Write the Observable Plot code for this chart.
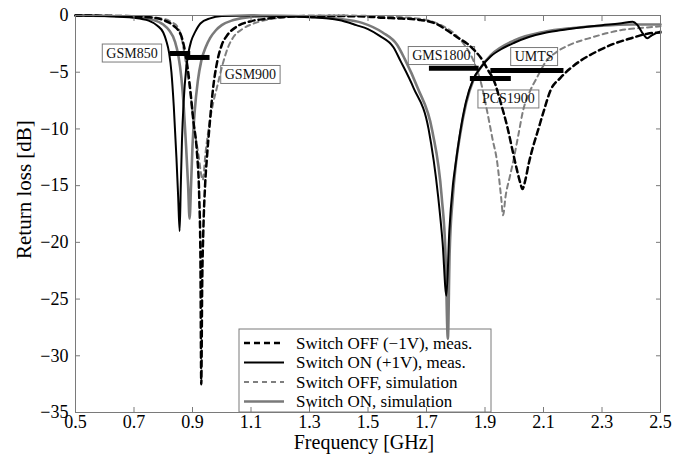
<!DOCTYPE html>
<html><head><meta charset="utf-8">
<script src="https://cdn.jsdelivr.net/npm/d3@7"></script>
<script src="https://cdn.jsdelivr.net/npm/@observablehq/plot@0.6"></script>
<style>
body{margin:0;background:#fff;}
#chart svg{font-family:"Liberation Serif","Times New Roman",serif;}
</style></head><body><div id="chart"></div>
<script>
// ---- data (GHz, dB) ----
const offMeasFreq = [0.5,0.6,0.7,0.75,0.8,0.83,0.86,0.876,0.89,0.903,0.915,0.923,0.927,0.93,0.933,0.937,0.943,0.95,0.958,0.97,0.985,1.0,1.02,1.05,1.1,1.15,1.2,1.3,1.4,1.5,1.55,1.6,1.68,1.73,1.77,1.81,1.84,1.865,1.885,1.91,1.93,1.955,1.977,1.995,2.01,2.02,2.028,2.038,2.05,2.065,2.078,2.1,2.124,2.158,2.19,2.226,2.28,2.34,2.4,2.455,2.5];
const offMeasDb   = [0,-0.02,-0.08,-0.15,-0.4,-0.8,-1.7,-3.4,-6,-9.3,-12,-16,-21,-32.5,-24,-19,-15,-12.3,-9.8,-6.5,-4,-2.6,-1.7,-1.0,-0.5,-0.3,-0.15,-0.05,-0.05,-0.1,-0.2,-0.25,-0.4,-0.7,-1.3,-2.0,-2.5,-3.1,-3.7,-4.8,-5.7,-7.8,-9.9,-12,-13.7,-14.7,-15.3,-14.5,-13,-11.5,-10.4,-8.5,-6.6,-5.5,-4.7,-4,-3.2,-2.5,-2.0,-1.6,-1.5];

const onMeasFreq = [0.5,0.6,0.7,0.75,0.78,0.8,0.81,0.82,0.828,0.836,0.845,0.851,0.856,0.86,0.864,0.87,0.878,0.886,0.895,0.91,0.927,0.96,1.0,1.1,1.2,1.3,1.4,1.46,1.5,1.54,1.587,1.611,1.656,1.707,1.74,1.755,1.768,1.778,1.79,1.8,1.815,1.835,1.86,1.885,1.92,1.96,2.0,2.05,2.11,2.17,2.226,2.3,2.36,2.405,2.42,2.44,2.455,2.47,2.5];
const onMeasDb   = [0,-0.05,-0.2,-0.45,-0.9,-1.5,-2.2,-3.3,-5,-8,-12.5,-16,-19,-15,-11,-7.5,-4.8,-3.3,-2.3,-1.4,-0.7,-0.25,-0.05,0,-0.05,-0.15,-0.4,-0.85,-1.2,-1.8,-2.8,-4,-6.4,-10,-16,-20,-24.7,-19,-15,-13,-10.3,-7.6,-5.6,-4.6,-3.6,-2.9,-2.4,-1.9,-1.5,-1.25,-1.05,-0.85,-0.7,-0.55,-0.8,-1.6,-2.0,-1.75,-1.4];

const offSimFreq = [0.5,0.6,0.7,0.79,0.83,0.849,0.86,0.87,0.882,0.893,0.903,0.92,0.935,0.945,0.955,0.97,0.985,1.0,1.02,1.04,1.07,1.11,1.2,1.3,1.4,1.5,1.6,1.7,1.75,1.8,1.83,1.85,1.87,1.885,1.907,1.925,1.942,1.955,1.962,1.97,1.985,1.997,2.015,2.03,2.055,2.077,2.11,2.14,2.18,2.27,2.363,2.455,2.5];
const offSimDb   = [0,-0.02,-0.08,-0.25,-0.6,-1.0,-1.7,-3.0,-5,-6.8,-9.3,-12.2,-14.5,-12,-10,-7.8,-6.2,-4.6,-2.9,-1.9,-1.2,-0.7,-0.2,-0.05,0,-0.03,-0.12,-0.4,-0.85,-1.7,-2.6,-3.4,-4.6,-5.8,-8.4,-10.8,-13,-16,-17.6,-16,-14.2,-12.8,-10.4,-8.4,-6.6,-5.5,-4,-3.3,-2.7,-1.9,-1.3,-1.05,-0.95];

const onSimFreq = [0.5,0.6,0.7,0.76,0.8,0.82,0.84,0.852,0.862,0.87,0.878,0.885,0.89,0.895,0.9,0.908,0.918,0.93,0.945,0.96,0.98,1.0,1.04,1.1,1.2,1.3,1.4,1.48,1.55,1.6,1.625,1.67,1.72,1.752,1.765,1.773,1.779,1.79,1.8,1.815,1.835,1.86,1.885,1.92,2.0,2.1,2.2,2.3,2.4,2.5];
const onSimDb   = [0,-0.05,-0.12,-0.35,-0.8,-1.3,-2.3,-3.6,-5.5,-8,-11.5,-15,-17.9,-15,-11.5,-8.3,-5.8,-4,-2.8,-2,-1.3,-0.85,-0.4,-0.12,-0.03,-0.1,-0.3,-0.65,-1.5,-2.6,-3.8,-6.4,-10.2,-16,-21,-28.5,-21,-16,-13.2,-10.5,-7.8,-5.7,-4.6,-3.5,-2.2,-1.45,-1.1,-0.9,-0.8,-0.8];

const seriesNames = ["Switch OFF (\u22121V), meas.", "Switch ON (+1V), meas.", "Switch OFF, simulation", "Switch ON, simulation"];

// frequency bands (GHz) and their level (dB)
const bandNames = ["GSM850", "GSM900", "GMS1800", "PCS1900", "UMTS"];
const bandStart = [0.824, 0.880, 1.710, 1.850, 1.920];
const bandEnd   = [0.894, 0.960, 1.880, 1.990, 2.170];
const bandLevel = [-3.35, -3.7, -4.65, -5.55, -4.85];
// band label anchors (GHz, dB)
const labelFreq = [0.693, 1.098, 1.751, 1.980, 2.068];
const labelDb   = [-3.31, -5.2, -3.53, -7.36, -3.62];

const xTicks = [0.5,0.7,0.9,1.1,1.3,1.5,1.7,1.9,2.1,2.3,2.5];
const yTicks = [0,-5,-10,-15,-20,-25,-30,-35];

// ---- build tables ----
const toRows = (fs, ds, name) => fs.map((f, i) => ({f, db: ds[i], name}));
const offMeas = toRows(offMeasFreq, offMeasDb, seriesNames[0]);
const onMeas  = toRows(onMeasFreq, onMeasDb, seriesNames[1]);
const offSim  = toRows(offSimFreq, offSimDb, seriesNames[2]);
const onSim   = toRows(onSimFreq, onSimDb, seriesNames[3]);
const bands = bandNames.map((n, i) => ({name: n, f1: bandStart[i], f2: bandEnd[i], db: bandLevel[i], lf: labelFreq[i], ldb: labelDb[i]}));

const styles = [
  {stroke: "#000", strokeWidth: 2.5, dash: "6,4"},
  {stroke: "#000", strokeWidth: 2, dash: null},
  {stroke: "#7f7f7f", strokeWidth: 2, dash: "5,4"},
  {stroke: "#7a7a7a", strokeWidth: 2.6, dash: null}
];
const lineMark = (data, s) => Plot.line(data, {x: "f", y: "db", stroke: s.stroke, strokeWidth: s.strokeWidth, strokeDasharray: s.dash, curve: "monotone-x"});

const axisGrey = "#7a7a7a";
const chart = Plot.plot({
  width: 673, height: 464,
  marginLeft: 75, marginRight: 13, marginTop: 15, marginBottom: 52,
  style: {fontFamily: "Liberation Serif, Times New Roman, serif", fontSize: "18px", background: "white", color: "black"},
  x: {type: "linear", domain: [0.5, 2.5]},
  y: {type: "linear", domain: [-35, 0]},
  marks: [
    lineMark(onSim, styles[3]),
    lineMark(offSim, styles[2]),
    lineMark(onMeas, styles[1]),
    lineMark(offMeas, styles[0]),
    Plot.ruleY(bands, {y: "db", x1: "f1", x2: "f2", stroke: "black", strokeWidth: 5}),
    Plot.text(bands, {x: "lf", y: "ldb", text: "name", fontSize: 14, fill: "#111"}),
    Plot.frame({stroke: axisGrey, strokeWidth: 1}),
    Plot.axisX(xTicks, {anchor: "bottom", tickSize: -5, tickPadding: 8, tickFormat: d3.format(".1f"), label: null, stroke: axisGrey, fill: "black"}),
    Plot.axisX(xTicks, {anchor: "top", tickSize: -5, tickFormat: () => "", label: null, stroke: axisGrey}),
    Plot.axisY(yTicks, {anchor: "left", tickSize: -5, tickPadding: 12, tickFormat: d3.format("d"), label: null, stroke: axisGrey, fill: "black"}),
    Plot.axisY(yTicks, {anchor: "right", tickSize: -5, tickFormat: () => "", label: null, stroke: axisGrey}),
    Plot.text(["Frequency [GHz]"], {frameAnchor: "bottom", dx: -4, dy: 36, fontSize: 20, fill: "black"}),
    Plot.text(["Return loss [dB]"], {frameAnchor: "left", rotate: -90, dx: -51, dy: 45, fontSize: 21, fill: "black"})
  ]
});
document.getElementById("chart").appendChild(chart);

// ---- decorations: label boxes and legend drawn underneath the curves ----
const svgNS = "http://www.w3.org/2000/svg";
const svg = chart.tagName.toLowerCase() === "svg" ? chart : chart.querySelector("svg");
const under = document.createElementNS(svgNS, "g");
const styleEl = svg.querySelector("style");
svg.insertBefore(under, styleEl ? styleEl.nextSibling : svg.firstChild);
const u = d3.select(under);
const svgRect = svg.getBoundingClientRect();

Array.from(svg.querySelectorAll("text"))
  .filter(t => bandNames.includes(t.textContent.trim()))
  .forEach(t => {
    const b = t.getBoundingClientRect();
    u.append("rect")
      .attr("x", b.left - svgRect.left - 4).attr("y", b.top - svgRect.top - 1.5)
      .attr("width", b.width + 8).attr("height", b.height + 3)
      .attr("fill", "white").attr("stroke", axisGrey).attr("stroke-width", 1);
  });

// legend
const lg = u.append("g").attr("text-anchor", "start");
lg.append("rect").attr("x", 239).attr("y", 329).attr("width", 252).attr("height", 83)
  .attr("fill", "white").attr("stroke", axisGrey).attr("stroke-width", 1);
[0, 1, 2, 3].forEach((k, i) => {
  const cy = 343 + i * 19.5;
  const s = styles[k];
  lg.append("line").attr("x1", 244).attr("x2", 284).attr("y1", cy).attr("y2", cy)
    .attr("stroke", s.stroke).attr("stroke-width", s.strokeWidth)
    .attr("stroke-dasharray", s.dash);
  lg.append("text").attr("x", 296).attr("y", cy).attr("dy", "0.35em")
    .attr("text-anchor", "start")
    .attr("font-size", 17).attr("fill", "black")
    .text(seriesNames[k]);
});
</script></body></html>
